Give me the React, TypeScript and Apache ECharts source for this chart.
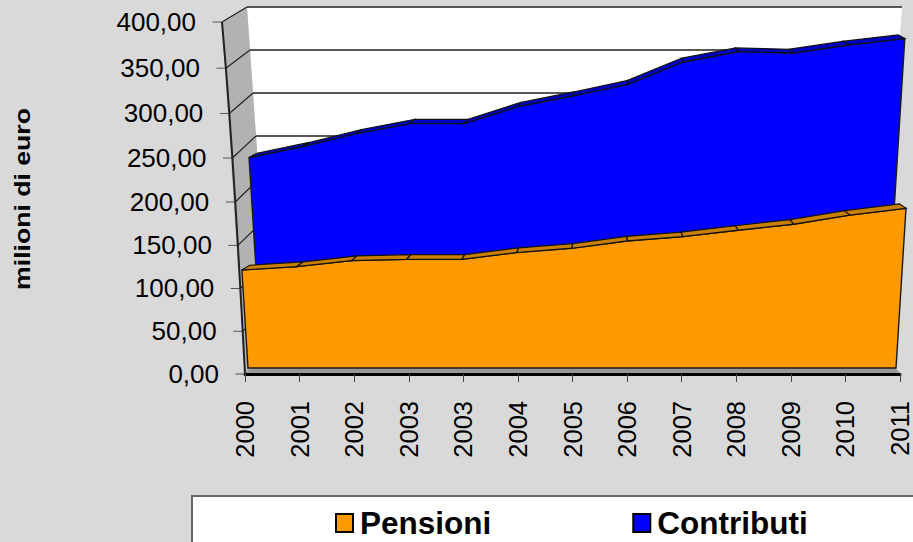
import React, { useEffect, useRef } from "react";
import * as echarts from "echarts";

const categories = ["2000", "2001", "2002", "2003", "2003", "2004", "2005", "2006", "2007", "2008", "2009", "2010", "2011"];
const pensioni = [115.5, 119.5, 126.5, 128, 128, 136, 141, 149.5, 154.5, 162, 169, 179.5, 187.5];
const contributi = [237.5, 250, 265, 276.5, 276.5, 296, 308, 321, 346, 357.5, 356, 365, 372];
const yTicks = [0, 50, 100, 150, 200, 250, 300, 350, 400];
const FONT = '"Liberation Sans", Arial, sans-serif';

// Perspective of the 3D plot: grid coordinates -> picture, at a given depth.
function project(p: number[], d: number) {
  const t = (374 - p[1]) / 352;
  const u = (p[0] - 245) / 655;
  const H = 341.4 * t + 10.56 * t * t * t;
  const y = 368 - 4.6 * d - (0.9915 - 0.0045 * d) * H;
  const W = 648 - 13 * d + 0.125 * (368 - y);
  return [572 + 0.6 * d + (u - 0.5) * W, y];
}
function axisPoint(v: number, api: any) {
  const ly = api.coord([0, v])[1];
  const t = (374 - ly) / 352;
  const y = 374 - (341.4 * t + 10.56 * t * t * t);
  const q = (374 - y) / 352;
  return [245 - 19 * q - 4 * q * q * q, y];
}
const wallLeft = (y: number) => 247 + 0.07 * (y - 7);
const wallRight = (y: number) => 902 - 0.07 * (y - 7);
const wallY = (v: number) => 351 - (344 * v) / 400;

function areaRender(values: number[], fill: string, side: string, d: number) {
  return (params: any, api: any) => {
    if (params.dataIndex !== 0) return null;
    const raw = values.map((v, i) => api.coord([i, v]));
    const front = raw.map((p) => project(p, d));
    const back = raw.map((p) => project(p, d + 1.15));
    const bl = project(api.coord([0, 0]), d);
    const br = project(api.coord([values.length - 1, 0]), d);
    const children: any[] = [
      {
        type: "polygon",
        shape: { points: [bl, ...front, br] },
        style: { fill, stroke: "#1a1a1a", lineWidth: 1.4 },
      },
    ];
    for (let i = 0; i < values.length - 1; i++) {
      children.push({
        type: "polygon",
        shape: { points: [front[i], front[i + 1], back[i + 1], back[i]] },
        style: { fill: side, stroke: "#111", lineWidth: 1.2 },
      });
    }
    return { type: "group", children };
  };
}

function frameRender(params: any, api: any) {
  if (params.dataIndex !== 0) return null;
  const pts = yTicks.map((v) => axisPoint(v, api));
  return {
    type: "group",
    children: [
      {
        type: "polygon",
        shape: { points: [[wallLeft(7), 7], [wallRight(7), 7], [wallRight(351), 351], [wallLeft(351), 351]] },
        style: { fill: "#ffffff" },
      },
      {
        type: "polygon",
        shape: { points: [[wallLeft(7), 7], [wallLeft(351), 351], pts[0], pts[8]] },
        style: { fill: "#b2b2b2" },
      },
      {
        type: "polygon",
        shape: { points: [[245, 373], [900, 373], [wallRight(351), 351], [wallLeft(351), 351]] },
        style: { fill: "#999999" },
      },
    ],
  };
}

function tickRender(params: any, api: any) {
  const v = api.value(0);
  const p = axisPoint(v, api);
  const wy = wallY(v);
  const children: any[] = [];
  if (v > 0) {
    children.push({
      type: "line",
      shape: { x1: wallLeft(wy), y1: wy, x2: wallRight(wy), y2: wy },
      style: { stroke: "#222", lineWidth: 1.5 },
    });
    children.push({
      type: "line",
      shape: { x1: p[0], y1: p[1], x2: wallLeft(wy), y2: wy },
      style: { stroke: "#222", lineWidth: 1.2 },
    });
  }
  children.push({
    type: "line",
    shape: { x1: p[0] - 9.5, y1: p[1], x2: p[0], y2: p[1] },
    style: { stroke: "#555", lineWidth: 1 },
  });
  children.push({
    type: "text",
    x: p[0] - 26,
    y: p[1],
    style: {
      text: v.toFixed(2).replace(".", ","),
      textAlign: "right",
      verticalAlign: "middle",
      fontSize: 26,
      fontFamily: FONT,
      fill: "#000",
    },
  });
  return { type: "group", children };
}

function axisLineRender(params: any, api: any) {
  if (params.dataIndex !== 0) return null;
  return {
    type: "polyline",
    shape: { points: yTicks.map((v) => axisPoint(v, api)) },
    style: { stroke: "#222", lineWidth: 2, fill: "none" },
  };
}

export default function App() {
  const ref = useRef<HTMLDivElement>(null);
  useEffect(() => {
    document.body.style.margin = "0";
    document.body.style.background = "#d9d9d9";
    const chart = echarts.init(ref.current!, undefined, { renderer: "svg" });
    chart.setOption({
      animation: false,
      backgroundColor: "#d9d9d9",
      grid: { left: 245, right: 13, top: 22, bottom: 168 },
      xAxis: {
        type: "category",
        data: categories,
        boundaryGap: false,
        axisLine: { lineStyle: { color: "#000", width: 3 } },
        axisTick: { alignWithLabel: true, length: 8, lineStyle: { color: "#444", width: 1 } },
        axisLabel: { interval: 0, rotate: 90, margin: 27, fontSize: 25.5, fontFamily: FONT, color: "#000" },
      },
      yAxis: { type: "value", min: 0, max: 400, interval: 50, show: false },
      legend: {
        left: 335,
        top: 507,
        itemWidth: 17,
        itemHeight: 18,
        itemGap: 141,
        padding: 0,
        selectedMode: false,
        textStyle: { fontSize: 31.5, fontWeight: "bold", fontFamily: FONT, color: "#000", padding: [0, 0, 4, 2] },
        data: [
          { name: "Pensioni", icon: "rect", itemStyle: { color: "#ff9900", borderColor: "#000", borderWidth: 2 } },
          { name: "Contributi", icon: "rect", itemStyle: { color: "#0000ff", borderColor: "#000", borderWidth: 2 } },
        ],
      },
      graphic: [
        {
          type: "rect",
          shape: { x: 192, y: 496, width: 730, height: 60 },
          style: { fill: "#fff", stroke: "#666", lineWidth: 2 },
          z: 1,
        },
        {
          type: "text",
          x: 22,
          y: 199,
          rotation: Math.PI / 2,
          scaleX: 1.21,
          style: {
            text: "milioni di euro",
            fontSize: 22,
            fontWeight: "bold",
            fontFamily: FONT,
            fill: "#000",
            textAlign: "center",
            verticalAlign: "middle",
          },
          z: 5,
        },
      ],
      series: [
        { type: "custom", name: "frame", z: 1, data: [[0]], renderItem: frameRender, silent: true },
        { type: "custom", name: "ticks", z: 2, data: yTicks.map((v) => [v]), encode: { y: 0 }, renderItem: tickRender, silent: true },
        { type: "custom", name: "axis", z: 3, data: [[0]], renderItem: axisLineRender, silent: true },
        {
          type: "custom",
          name: "Contributi",
          z: 4,
          itemStyle: { color: "#0000ff" },
          data: contributi.map((v, i) => [i, v]),
          encode: { x: 0, y: 1 },
          renderItem: areaRender(contributi, "#0000ff", "#0000c4", 2),
          silent: true,
        },
        {
          type: "custom",
          name: "Pensioni",
          z: 5,
          itemStyle: { color: "#ff9900" },
          data: pensioni.map((v, i) => [i, v]),
          encode: { x: 0, y: 1 },
          renderItem: areaRender(pensioni, "#ff9900", "#c87f00", 0),
          silent: true,
        },
      ],
    });
    return () => chart.dispose();
  }, []);
  return <div ref={ref} style={{ width: 913, height: 542 }} />;
}
